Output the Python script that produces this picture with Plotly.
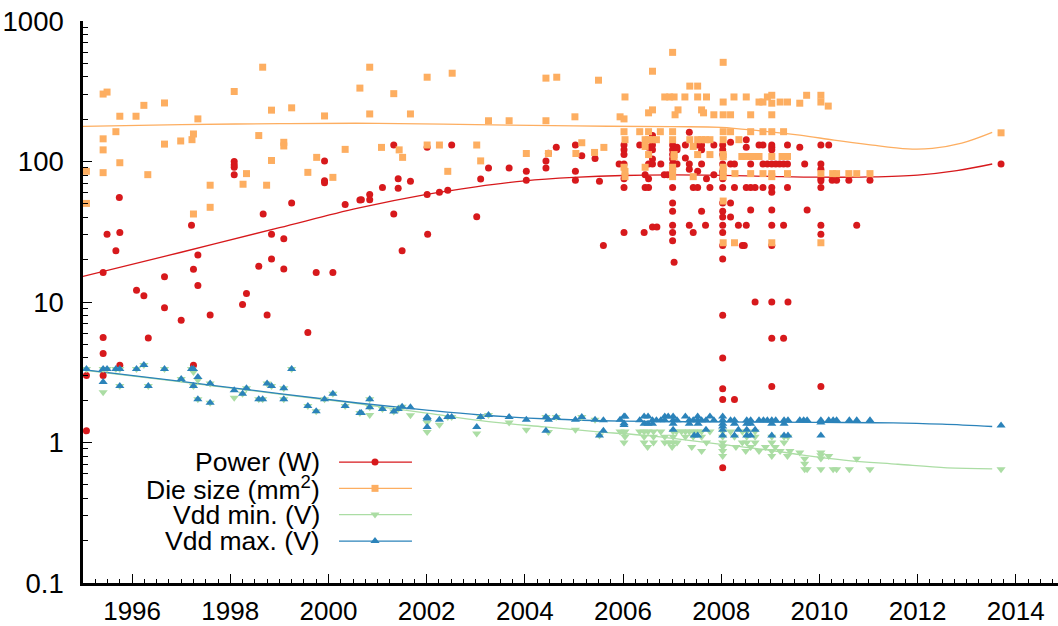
import plotly.graph_objects as go

# ---- measurements: (year, value) ----
power = [
    (1995.07, 1.21), (1995.07, 3.0), (1995.41, 16.2), (1995.41, 5.6), (1995.41, 4.3), (1995.41, 3.0),
    (1995.49, 30.3), (1995.67, 23.2), (1995.75, 31.3), (1995.74, 55.5), (1995.75, 3.55),
    (1996.09, 12.1), (1996.24, 11.1), (1996.33, 5.55), (1996.66, 15.1), (1996.66, 9.1), (1997.0, 7.4),
    (1997.21, 35.2), (1997.25, 17.1), (1997.34, 21.6), (1997.34, 13.1), (1997.25, 3.55), (1997.59, 8.07),
    (1998.08, 100), (1998.08, 95), (1998.08, 91), (1998.08, 80.6), (1998.25, 9.6), (1998.33, 11.5),
    (1998.58, 18), (1998.67, 42.3), (1998.75, 8.07), (1998.84, 30.3), (1998.84, 20.2), (1999.09, 28.2),
    (1999.09, 17.2), (1999.25, 50.6), (1999.58, 6.06), (1999.75, 16.2), (1999.92, 100.7), (1999.92, 72.8),
    (1999.92, 70.5), (2000.09, 16.2), (2000.34, 49.5), (2000.64, 53.1), (2000.67, 53.4), (2000.84, 58.3),
    (2000.84, 53.4), (2001.1, 65.3), (2001.33, 131), (2001.33, 42.3), (2001.42, 75.5), (2001.42, 64.5),
    (2001.5, 23.2), (2001.67, 72.3), (2002.01, 126.5), (2002.01, 58.3), (2002.02, 30.3), (2002.26, 60.5),
    (2002.43, 62.5), (2002.51, 131), (2003.02, 40.5), (2003.1, 75.2), (2003.26, 89.9), (2003.68, 89.9),
    (2004.03, 85.1), (2004.03, 73.5), (2004.43, 101), (2004.43, 89.9), (2004.48, 114.7), (2004.64, 126.5),
    (2005.03, 131), (2005.03, 85.1), (2005.03, 73.5), (2005.16, 110), (2005.43, 105), (2005.52, 72.3),
    (2005.6, 25.2), (2005.92, 96),
    (2006.02, 131), (2006.02, 121), (2006.02, 112), (2006.02, 96), (2006.02, 75.5), (2006.02, 65.3),
    (2006.02, 31.3), (2006.34, 131), (2006.43, 31.3), (2006.45, 80.6), (2006.45, 65.3), (2006.52, 65.3),
    (2006.52, 75.5), (2006.52, 126.5), (2006.52, 96),
    (2006.6, 153), (2006.6, 143), (2006.6, 131), (2006.6, 121), (2006.6, 104), (2006.6, 96), (2006.6, 34.2),
    (2006.69, 34.2), (2006.77, 96), (2006.84, 80.6), (2006.91, 80.6),
    (2007.01, 131), (2007.01, 121), (2007.01, 112), (2007.01, 104), (2007.01, 96), (2007.01, 88),
    (2007.01, 80.6), (2007.01, 65.3), (2007.01, 50.6), (2007.01, 44.2), (2007.01, 35.2), (2007.01, 31.3),
    (2007.01, 27.3), (2007.04, 19.2),
    (2007.1, 126.5), (2007.1, 121), (2007.1, 96), (2007.27, 131), (2007.27, 105.8), (2007.35, 161.5),
    (2007.35, 96), (2007.35, 88), (2007.35, 35.2), (2007.43, 65.3), (2007.43, 31.3), (2007.52, 65.3),
    (2007.52, 85.1), (2007.52, 131), (2007.6, 131), (2007.6, 121), (2007.6, 96), (2007.6, 44.2),
    (2007.68, 35.2), (2007.7, 75.5), (2007.77, 65.3), (2007.85, 131), (2007.85, 80.6),
    (2008.03, 131), (2008.03, 121), (2008.03, 112), (2008.03, 96), (2008.03, 85), (2008.03, 80.6),
    (2008.03, 75.5), (2008.03, 65.3), (2008.03, 50.6), (2008.03, 44.2), (2008.03, 40.3), (2008.03, 35.2),
    (2008.03, 31.3), (2008.03, 25.2), (2008.03, 20.2), (2008.03, 8.04), (2008.03, 4.0), (2008.03, 2.41),
    (2008.03, 2.02), (2008.03, 0.66),
    (2008.19, 137), (2008.19, 96), (2008.19, 50.6), (2008.19, 40.3), (2008.27, 96), (2008.27, 65.3),
    (2008.27, 2.02), (2008.35, 35.2), (2008.43, 25.2), (2008.47, 25.2), (2008.51, 143), (2008.51, 126.5),
    (2008.51, 65.3), (2008.51, 35.2), (2008.6, 65.3), (2008.6, 96), (2008.6, 45.2), (2008.69, 10),
    (2008.69, 65.3), (2008.77, 131), (2008.85, 131), (2008.85, 65.3), (2008.85, 96), (2008.94, 96),
    (2009.03, 131), (2009.03, 126.5), (2009.03, 121), (2009.03, 96), (2009.03, 65.3), (2009.03, 60.5),
    (2009.03, 45.2), (2009.03, 35.2), (2009.03, 25.2), (2009.03, 10), (2009.03, 5.53), (2009.03, 2.5),
    (2009.11, 96), (2009.19, 96), (2009.27, 96), (2009.27, 35.2), (2009.27, 5.53), (2009.35, 96),
    (2009.35, 131), (2009.35, 65.3), (2009.36, 10), (2009.6, 126.5), (2009.7, 96), (2009.75, 45.2),
    (2010.03, 131), (2010.03, 96), (2010.03, 88), (2010.03, 75.5), (2010.03, 72.8), (2010.03, 65.3),
    (2010.03, 35.2), (2010.03, 30.3), (2010.03, 2.5),
    (2010.19, 131), (2010.26, 73.5), (2010.35, 73.5), (2010.6, 73.5), (2010.76, 35.2), (2011.03, 73.5),
    (2013.7, 96),
]

die_size = [
    (1995.07, 85.1), (1995.07, 50.3), (1995.41, 302), (1995.49, 312), (1995.41, 145), (1995.41, 121),
    (1995.41, 83.3), (1995.67, 163), (1995.75, 210), (1995.75, 98), (1996.08, 210), (1996.24, 251),
    (1996.32, 80.6), (1996.66, 261), (1996.66, 133), (1996.99, 140), (1997.22, 143), (1997.25, 157),
    (1997.25, 42.3), (1997.34, 201), (1997.59, 67.8), (1997.59, 47.2), (1998.08, 315), (1998.26, 68.9),
    (1998.33, 82), (1998.58, 153), (1998.66, 469), (1998.74, 67.8), (1998.84, 232), (1998.84, 101.7),
    (1999.09, 137), (1999.09, 129), (1999.25, 241), (1999.58, 83.7), (1999.76, 107), (1999.92, 211),
    (2000.09, 77.1), (2000.34, 122), (2000.64, 333), (2000.84, 469), (2000.84, 218), (2001.08, 126),
    (2001.33, 304), (2001.44, 121), (2001.51, 107), (2001.67, 218), (2002.01, 398), (2002.01, 131),
    (2002.26, 131), (2002.43, 85.1), (2002.52, 425), (2003.02, 131), (2003.1, 101), (2003.26, 195),
    (2003.68, 195), (2004.03, 114), (2004.43, 392), (2004.43, 195), (2004.48, 114), (2004.65, 398),
    (2005.02, 208), (2005.04, 114), (2005.16, 136), (2005.42, 116), (2005.5, 379), (2005.61, 126),
    (2005.94, 208),
    (2006.02, 201), (2006.04, 288), (2006.02, 163), (2006.04, 143), (2006.02, 91), (2006.04, 85),
    (2006.04, 78),
    (2006.34, 163), (2006.45, 143), (2006.52, 143), (2006.6, 143), (2006.68, 143), (2006.45, 128),
    (2006.52, 222), (2006.52, 112), (2006.45, 91), (2006.52, 163), (2006.6, 233), (2006.6, 439),
    (2006.76, 163), (2006.85, 288), (2006.95, 288), (2007.04, 288),
    (2007.01, 598), (2007.01, 163), (2007.01, 143), (2007.01, 91), (2007.01, 85), (2007.01, 78),
    (2007.04, 112), (2007.04, 108), (2007.06, 215), (2007.12, 233), (2007.26, 288), (2007.36, 344),
    (2007.52, 344), (2007.36, 143), (2007.43, 128), (2007.43, 78), (2007.52, 288), (2007.7, 288),
    (2007.52, 143), (2007.6, 143), (2007.68, 143), (2007.77, 143), (2007.52, 112), (2007.6, 233),
    (2007.64, 222), (2007.77, 112), (2007.85, 215),
    (2008.04, 508), (2008.04, 265), (2008.04, 215), (2008.04, 163), (2008.04, 143), (2008.04, 112),
    (2008.04, 108), (2008.04, 91), (2008.04, 85), (2008.04, 78), (2008.04, 52.3), (2008.04, 26.4),
    (2008.19, 215), (2008.19, 163), (2008.26, 288), (2008.27, 26.4), (2008.28, 82), (2008.36, 143),
    (2008.51, 288), (2008.42, 108.6), (2008.51, 108.6), (2008.6, 108.6), (2008.68, 108.6), (2008.77, 108.6),
    (2008.6, 215), (2008.6, 163), (2008.6, 82), (2008.77, 265), (2008.85, 265), (2008.85, 163),
    (2008.85, 82), (2008.94, 288),
    (2009.03, 296), (2009.03, 260), (2009.03, 215), (2009.03, 163), (2009.03, 108.6), (2009.03, 82),
    (2009.03, 78), (2009.03, 26.4),
    (2009.27, 163), (2009.24, 108.6), (2009.35, 108.6), (2009.2, 265), (2009.35, 265), (2009.6, 260),
    (2009.35, 82), (2009.74, 296),
    (2010.03, 296), (2010.03, 265), (2010.03, 82), (2010.03, 26.4),
    (2010.18, 248), (2010.27, 82), (2010.35, 82), (2010.6, 82), (2010.76, 82), (2011.03, 82),
    (2013.7, 160),
]

vdd_max = [
    (1995.07, 3.34), (1995.41, 3.34), (1995.49, 3.34), (1995.67, 3.34), (1995.75, 3.34), (1995.41, 2.7),
    (1995.75, 2.52), (1996.09, 3.34), (1996.24, 3.56), (1996.33, 2.52), (1996.66, 3.34), (1997.0, 2.83),
    (1997.21, 3.34), (1997.25, 3.34), (1997.25, 2.52), (1997.34, 2.93), (1997.34, 2.03), (1997.59, 2.63),
    (1997.59, 1.92), (1998.08, 2.35), (1998.25, 2.22), (1998.33, 2.43), (1998.58, 2.03), (1998.66, 2.03),
    (1998.75, 2.63), (1998.84, 2.52), (1999.09, 2.43), (1999.09, 2.03), (1999.25, 3.34), (1999.58, 1.82),
    (1999.75, 1.67), (1999.92, 2.03), (2000.09, 2.22), (2000.34, 1.82), (2000.64, 1.62), (2000.67, 1.62),
    (2000.84, 2.03), (2000.84, 1.78), (2001.1, 1.73), (2001.33, 1.66), (2001.42, 1.73), (2001.5, 1.8),
    (2001.67, 1.78), (2002.01, 1.52), (2002.01, 1.48), (2002.01, 1.29), (2002.26, 1.45), (2002.43, 1.52),
    (2002.51, 1.52), (2003.02, 1.29), (2003.1, 1.52), (2003.26, 1.57), (2003.68, 1.52), (2004.03, 1.45),
    (2004.43, 1.52), (2004.48, 1.45), (2004.43, 1.21), (2004.64, 1.52), (2005.03, 1.45), (2005.16, 1.52),
    (2005.43, 1.45), (2005.52, 1.12), (2005.6, 1.21), (2005.94, 1.45), (2006.02, 1.53), (2006.02, 1.37),
    (2006.02, 1.33),
    # 2006-2011 cluster
    (2006.04, 1.53), (2006.43, 1.53), (2006.51, 1.53), (2006.85, 1.53), (2006.92, 1.53), (2007.02, 1.53),
    (2007.27, 1.53), (2007.52, 1.53), (2007.77, 1.53), (2008.03, 1.53),
    (2005.6, 1.44), (2006.34, 1.44), (2006.6, 1.44), (2006.68, 1.44), (2006.77, 1.44),
    (2006.85, 1.44), (2007.02, 1.44), (2007.1, 1.44), (2007.35, 1.44), (2007.43, 1.44), (2007.52, 1.44),
    (2007.6, 1.44), (2007.69, 1.44), (2007.85, 1.44), (2008.03, 1.44), (2008.19, 1.44), (2008.27, 1.44),
    (2008.52, 1.44), (2008.6, 1.44), (2008.77, 1.44), (2008.86, 1.44), (2008.94, 1.44), (2009.03, 1.44),
    (2009.11, 1.44), (2009.28, 1.44), (2009.36, 1.44), (2009.6, 1.44), (2009.68, 1.44), (2009.75, 1.44),
    (2010.03, 1.44), (2010.19, 1.44), (2010.28, 1.44), (2010.35, 1.44), (2010.61, 1.44), (2010.76, 1.44),
    (2011.03, 1.44), (2010.03, 1.39),
    (2006.43, 1.36), (2006.51, 1.36), (2006.6, 1.36), (2007.02, 1.36), (2007.35, 1.36),
    (2007.53, 1.36), (2008.03, 1.36), (2008.27, 1.36), (2008.52, 1.36), (2008.6, 1.36), (2009.03, 1.36),
    (2009.28, 1.36), (2008.03, 1.3),
    (2007.02, 1.23), (2007.69, 1.23), (2008.03, 1.23), (2008.35, 1.23), (2008.52, 1.23), (2008.69, 1.23),
    (2007.45, 1.12), (2007.52, 1.12), (2008.03, 1.12), (2008.27, 1.12), (2008.52, 1.12),
    (2008.6, 1.12), (2009.03, 1.12), (2009.28, 1.12), (2009.36, 1.12), (2010.03, 1.12),
    (2013.7, 1.32),
]

vdd_min = [
    (1995.07, 3.34), (1995.41, 3.34), (1995.49, 3.34), (1995.67, 3.34), (1995.75, 3.34), (1995.41, 2.28),
    (1995.75, 2.52), (1996.09, 3.34), (1996.24, 3.56), (1996.33, 2.52), (1996.66, 3.34), (1997.0, 2.83),
    (1997.21, 3.34), (1997.25, 3.18), (1997.25, 2.52), (1997.34, 2.78), (1997.34, 2.03), (1997.59, 2.63),
    (1997.59, 1.92), (1998.08, 2.08), (1998.25, 2.22), (1998.33, 2.43), (1998.58, 2.03), (1998.66, 2.03),
    (1998.75, 2.63), (1998.84, 2.52), (1999.09, 2.43), (1999.09, 2.03), (1999.25, 3.34), (1999.58, 1.82),
    (1999.75, 1.67), (1999.92, 2.03), (2000.09, 2.22), (2000.34, 1.82), (2000.64, 1.62), (2000.84, 1.57),
    (2000.84, 2.03), (2000.84, 1.78), (2001.1, 1.73), (2001.33, 1.66), (2001.42, 1.73), (2001.5, 1.8),
    (2001.67, 1.56), (2002.01, 1.39), (2002.01, 1.19), (2002.26, 1.34), (2002.43, 1.52), (2002.51, 1.52),
    (2003.02, 1.16), (2003.1, 1.52), (2003.26, 1.57), (2003.68, 1.39), (2004.03, 1.23), (2004.43, 1.52),
    (2004.48, 1.19), (2004.64, 1.52), (2005.03, 1.23), (2005.16, 1.52), (2005.43, 1.45), (2005.52, 1.12),
    (2006.02, 1.18), (2006.02, 1.0),
    # 2006-2011 cluster
    (2005.94, 1.2), (2006.04, 1.2), (2006.34, 1.2), (2006.43, 1.2), (2006.51, 1.2), (2006.62, 1.2),
    (2006.77, 1.2), (2007.02, 1.2), (2007.09, 1.2), (2007.19, 1.2), (2007.27, 1.2), (2007.35, 1.2),
    (2007.43, 1.2), (2007.52, 1.2), (2007.6, 1.2), (2007.77, 1.2), (2008.03, 1.2), (2008.19, 1.2),
    (2008.43, 1.2), (2008.52, 1.2), (2008.69, 1.2),
    (2006.04, 1.1), (2006.43, 1.1), (2006.62, 1.1), (2006.85, 1.1), (2007.02, 1.1), (2007.27, 1.1),
    (2007.43, 1.1), (2007.6, 1.1), (2008.03, 1.1), (2008.27, 1.1), (2008.52, 1.1), (2008.69, 1.1),
    (2009.03, 1.1), (2009.28, 1.1), (2009.36, 1.1),
    (2006.43, 1.0), (2006.62, 1.0), (2006.85, 1.0), (2006.94, 1.0), (2007.02, 1.0),
    (2007.1, 1.0), (2007.7, 1.0), (2008.03, 1.0), (2008.43, 1.0), (2008.52, 1.0), (2008.69, 1.0),
    (2009.03, 1.0), (2009.28, 1.0),
    (2006.5, 0.93), (2007.0, 0.93), (2007.4, 0.93), (2008.03, 0.93), (2008.3, 0.93), (2008.6, 0.93),
    (2008.9, 0.93), (2009.1, 0.93),
    (2007.6, 0.87), (2008.03, 0.87), (2008.5, 0.87), (2008.77, 0.87), (2009.03, 0.87), (2009.2, 0.87),
    (2009.4, 0.87), (2009.6, 0.85),
    (2008.03, 0.8), (2009.03, 0.8), (2009.35, 0.8), (2010.03, 0.81), (2010.19, 0.8),
    (2009.7, 0.766), (2009.7, 0.706), (2009.7, 0.644), (2009.75, 0.644), (2010.03, 0.85), (2010.03, 0.77),
    (2010.03, 0.644), (2010.28, 0.644), (2010.35, 0.644), (2010.61, 0.644), (2010.76, 0.766),
    (2011.03, 0.644), (2013.7, 0.644),
]

# ---- smoothed trends: (year, value) ----
power_trend = [
    (1995.0, 15.2), (1997.0, 22.6), (1999.0, 33.8), (2000.6, 46.5), (2002.0, 58.3), (2003.0, 66.0),
    (2004.0, 72.8), (2005.0, 77.0), (2006.0, 79.5), (2007.0, 80.2), (2008.0, 79.6), (2009.0, 78.3),
    (2010.0, 77.3), (2011.0, 77.6), (2012.0, 80.0), (2012.8, 86.0), (2013.52, 96.0),
]
die_trend = [
    (1995.0, 178), (1997.0, 183), (1999.0, 186), (2001.0, 187), (2003.0, 183), (2005.0, 179),
    (2007.0, 177), (2008.0, 175), (2008.8, 165), (2009.6, 154), (2010.3, 142), (2011.0, 132),
    (2011.8, 123), (2012.3, 124), (2012.9, 135), (2013.52, 161),
]
vdd_max_trend = [
    (1995.0, 3.30), (1997.0, 2.72), (1999.0, 2.23), (2000.6, 1.91), (2002.0, 1.70), (2003.1, 1.57),
    (2004.5, 1.47), (2006.0, 1.42), (2008.0, 1.40), (2010.0, 1.39), (2011.5, 1.38), (2012.5, 1.35),
    (2013.52, 1.30),
]
vdd_min_trend = [
    (1995.0, 3.28), (1997.0, 2.70), (1999.0, 2.21), (2000.44, 1.92), (2002.0, 1.62), (2003.1, 1.43),
    (2004.4, 1.29), (2005.5, 1.19), (2006.5, 1.12), (2007.3, 1.04), (2008.0, 0.97), (2009.0, 0.88),
    (2009.6, 0.82), (2010.5, 0.75), (2011.6, 0.70), (2012.6, 0.66), (2013.52, 0.65),
]

x_ticks = [1996, 1998, 2000, 2002, 2004, 2006, 2008, 2010, 2012, 2014]
y_ticks = [0.1, 1, 10, 100, 1000]
y_tick_text = ["0.1", "1", "10", "100", "1000"]

RED, ORANGE, GREEN, BLUE = "#d7191c", "#fdae61", "#abdda4", "#2b83ba"
FONT = "Liberation Sans, Arial, sans-serif"

series = [
    ("Power (W)", power, power_trend, RED, "circle", 7),
    ("Die size (mm<sup>2</sup>)", die_size, die_trend, ORANGE, "square", 7),
    ("Vdd min. (V)", vdd_min, vdd_min_trend, GREEN, "triangle-down", 8),
    ("Vdd max. (V)", vdd_max, vdd_max_trend, BLUE, "triangle-up", 8),
]

fig = go.Figure()

# trend curves underneath the markers
for name, pts, trend, color, symbol, size in series:
    fig.add_trace(go.Scatter(
        x=[p[0] for p in trend], y=[p[1] for p in trend], mode="lines",
        line=dict(color=color, width=1.3, shape="spline", smoothing=1.0),
        showlegend=False, hoverinfo="skip"))

for name, pts, trend, color, symbol, size in series:
    fig.add_trace(go.Scatter(
        x=[p[0] for p in pts], y=[p[1] for p in pts], mode="markers",
        marker=dict(symbol=symbol, size=size, color=color, line=dict(width=0)),
        name=name, showlegend=False))

# key in the lower-left corner: label on the left, line sample with a marker on the right
key_y = [0.2152, 0.1684, 0.1217, 0.0746]
annotations = []
for (name, pts, trend, color, symbol, size), ky in zip(series, key_y):
    fig.add_trace(go.Scatter(
        x=[0.2626, 0.3374], y=[ky, ky], xaxis="x3", yaxis="y3", mode="lines",
        line=dict(color=color, width=1.3), showlegend=False, hoverinfo="skip"))
    fig.add_trace(go.Scatter(
        x=[0.2995], y=[ky], xaxis="x3", yaxis="y3", mode="markers",
        marker=dict(symbol=symbol, size=size, color=color, line=dict(width=0)),
        showlegend=False, hoverinfo="skip"))
    annotations.append(dict(
        x=0.2451, y=ky, xref="paper", yref="paper", xanchor="right", yanchor="middle",
        text=name, showarrow=False, font=dict(family=FONT, size=26.5, color="black")))

x_range = [1995, 2014.86]

fig.update_layout(
    width=1058, height=626,
    margin=dict(l=83, r=0, t=21, b=38),
    paper_bgcolor="white", plot_bgcolor="white",
    font=dict(family=FONT, size=26, color="black"),
    showlegend=False,
    annotations=annotations,
    xaxis=dict(
        range=x_range, tickvals=x_ticks, ticks="inside", ticklen=9, tickwidth=1, tickcolor="black",
        minor=dict(dtick=0.25, ticks="inside", ticklen=4, tickwidth=1, tickcolor="black"),
        showline=True, linewidth=2.5, linecolor="black", showgrid=False, zeroline=False,
        ticklabelstandoff=3, tickfont=dict(family=FONT, size=26),
    ),
    xaxis2=dict(
        range=x_range, overlaying="x", side="top", tickvals=x_ticks, ticks="inside", ticklen=9,
        tickwidth=1, tickcolor="black", showticklabels=False,
        minor=dict(dtick=0.25, ticks="inside", ticklen=4, tickwidth=1, tickcolor="black"),
        showline=True, linewidth=1.3, linecolor="black", showgrid=False, zeroline=False,
    ),
    yaxis=dict(
        type="log", range=[-1, 3], tickvals=y_ticks, ticktext=y_tick_text,
        ticks="inside", ticklen=9, tickwidth=1, tickcolor="black",
        minor=dict(ticks="inside", ticklen=5, tickwidth=1, tickcolor="black",
                   tickvals=[m * 10 ** e for e in range(-1, 3) for m in range(2, 10)]),
        showline=True, linewidth=2.5, linecolor="black", showgrid=False, zeroline=False,
        ticklabelstandoff=11, tickfont=dict(family=FONT, size=27.5),
    ),
    xaxis3=dict(range=[0, 1], overlaying="x", visible=False),
    yaxis3=dict(range=[0, 1], overlaying="y", visible=False),
)

fig.write_html("out.html")
